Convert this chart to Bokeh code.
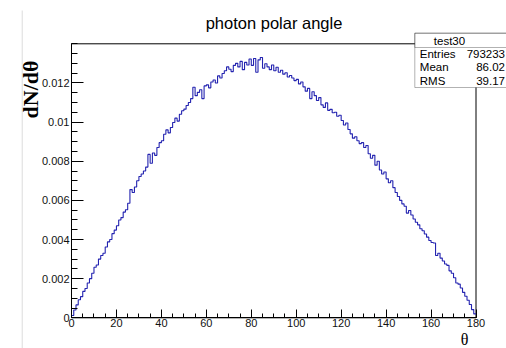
import numpy as np
from bokeh.plotting import figure
from bokeh.models import (FixedTicker, Label, BoxAnnotation, Range1d,
                          CustomJSTickFormatter)
from bokeh.embed import file_html
from bokeh.resources import INLINE

# ---------------- data ----------------
title_text = "photon polar angle"
x_label = "θ"
y_label = "dN/dθ"
stats_name = "test30"
stats_keys = ["Entries", "Mean", "RMS"]
stats_vals = ["793233", "86.02", "39.17"]

x_lo, x_hi, n_bins = 0, 180, 180
y_lo, y_hi = 0, 0.0140

counts = [
    0.00012, 0.00040, 0.00066, 0.00092, 0.00108, 0.00135, 0.00150, 0.00178, 0.00200, 0.00228,
    0.00258, 0.00270, 0.00300, 0.00318, 0.00330, 0.00362, 0.00388, 0.00400, 0.00430, 0.00448,
    0.00470, 0.00500, 0.00512, 0.00540, 0.00552, 0.00585, 0.00655, 0.00640, 0.00668, 0.00700,
    0.00722, 0.00735, 0.00750, 0.00770, 0.00835, 0.00790, 0.00842, 0.00830, 0.00870, 0.00895,
    0.00905, 0.00938, 0.00960, 0.00945, 0.00972, 0.00998, 0.01020, 0.01005, 0.01040, 0.01058,
    0.01066, 0.01085, 0.01100, 0.01120, 0.01178, 0.01135, 0.01152, 0.01165, 0.01120, 0.01185,
    0.01190, 0.01175, 0.01205, 0.01215, 0.01200, 0.01236, 0.01225, 0.01248, 0.01262, 0.01282,
    0.01270, 0.01258, 0.01290, 0.01300, 0.01282, 0.01310, 0.01268, 0.01305, 0.01292, 0.01322,
    0.01290, 0.01325, 0.01255, 0.01318, 0.01330, 0.01275, 0.01298, 0.01282, 0.01268, 0.01292,
    0.01262, 0.01280, 0.01255, 0.01265, 0.01245, 0.01252, 0.01230, 0.01238, 0.01225, 0.01212,
    0.01218, 0.01195, 0.01205, 0.01180, 0.01158, 0.01172, 0.01120, 0.01155, 0.01135, 0.01110,
    0.01125, 0.01088, 0.01075, 0.01098, 0.01060, 0.01065, 0.01048, 0.01050, 0.01030, 0.01035,
    0.01008, 0.00985, 0.00995, 0.00962, 0.00940, 0.00918, 0.00925, 0.00905, 0.00890, 0.00895,
    0.00870, 0.00880, 0.00838, 0.00815, 0.00830, 0.00780, 0.00800, 0.00755, 0.00735, 0.00745,
    0.00710, 0.00690, 0.00700, 0.00665, 0.00640, 0.00620, 0.00600, 0.00582, 0.00570, 0.00535,
    0.00548, 0.00525, 0.00505, 0.00488, 0.00475, 0.00455, 0.00445, 0.00428, 0.00412, 0.00395,
    0.00385, 0.00382, 0.00318, 0.00330, 0.00305, 0.00290, 0.00275, 0.00268, 0.00240, 0.00228,
    0.00205, 0.00178, 0.00172, 0.00152, 0.00130, 0.00110, 0.00090, 0.00068, 0.00042, 0.00020,
]

x_ticks = [0, 20, 40, 60, 80, 100, 120, 140, 160, 180]
x_minor_step = 5
y_ticks = [0, 0.002, 0.004, 0.006, 0.008, 0.010, 0.012]
y_minor_step = 0.0005

# ---------------- layout (canvas pixels) ----------------
W, H = 506, 348
FRAME_L, FRAME_R, FRAME_T, FRAME_B = 71.0, 475.5, 43.3, 317.3


def dx(px):
    return x_lo + (px - FRAME_L) * (x_hi - x_lo) / (FRAME_R - FRAME_L)


def dy(py):
    return y_lo + (FRAME_B - py) * (y_hi - y_lo) / (FRAME_B - FRAME_T)


SANS = "Liberation Sans"
SERIF = "Liberation Serif"
LINE_BLUE = "#2323b0"

p = figure(width=W, height=H, output_backend="svg", toolbar_location=None,
           x_range=Range1d(dx(0), dx(W)), y_range=Range1d(dy(H), dy(0)),
           min_border=0, min_border_left=0, min_border_right=0,
           min_border_top=0, min_border_bottom=0)
p.background_fill_color = "white"
p.border_fill_color = "white"
p.outline_line_color = None
p.xgrid.visible = False
p.ygrid.visible = False

# plot frame
p.quad(left=[x_lo], right=[x_hi], bottom=[y_lo], top=[y_hi],
       fill_alpha=0, line_color="black", line_width=1)

edges = np.linspace(x_lo, x_hi, n_bins + 1)
step_y = list(counts) + [counts[-1]]
p.step(edges, step_y, mode="after", line_color=LINE_BLUE, line_width=1.1)

xminor = [float(v) for v in np.arange(x_lo, x_hi + 0.001, x_minor_step)]
yminor = [float(v) for v in np.arange(y_lo, y_hi + 1e-9, y_minor_step)]

for ax, ticks, minor, tin, mtin, bnds, loc in (
        (p.xaxis[0], x_ticks, xminor, 8, 4, (x_lo, x_hi), y_lo),
        (p.yaxis[0], y_ticks, yminor, 12, 6, (y_lo, y_hi), x_lo)):
    ax.fixed_location = loc
    ax.bounds = bnds
    ax.ticker = FixedTicker(ticks=ticks, minor_ticks=minor)
    ax.major_tick_in = tin
    ax.major_tick_out = 0
    ax.minor_tick_in = mtin
    ax.minor_tick_out = 0
    ax.axis_line_color = "black"
    ax.major_tick_line_color = "black"
    ax.minor_tick_line_color = "black"
    ax.major_label_text_font = SANS
    ax.major_label_text_font_size = "11px"
    ax.major_label_text_color = "#111111"

p.xaxis[0].major_label_standoff = 1
p.yaxis[0].major_label_standoff = 2
p.yaxis[0].formatter = CustomJSTickFormatter(
    code="return Number(tick.toFixed(4)).toString();")

# faint vertical line at page left
p.add_layout(BoxAnnotation(left=dx(21.2), right=dx(22.2), top=dy(10), bottom=dy(360),
                           fill_color="#dcdcdc", fill_alpha=1, line_alpha=0))

# title
p.add_layout(Label(x=dx(273.5), y=dy(22), text=title_text, text_align="center",
                   text_baseline="alphabetic", text_font=SANS,
                   text_font_size="16.5px", text_color="black"))
# y axis title
p.add_layout(Label(x=dx(30), y=dy(60), text=y_label, angle=np.pi / 2,
                   text_align="right", text_baseline="alphabetic",
                   text_font=SERIF, text_font_style="bold",
                   text_font_size="22px", text_color="black"))
# x axis title
p.add_layout(Label(x=dx(464), y=dy(347.5), text=x_label, text_align="center",
                   text_baseline="bottom", text_font=SERIF,
                   text_font_size="16px", text_color="black"))

# stats box
box_l, box_r, box_t, box_sep, box_b = 414.3, 540, 32.7, 47, 87
p.add_layout(BoxAnnotation(left=dx(box_l), right=dx(box_r), top=dy(box_t), bottom=dy(box_b),
                           fill_color="white", fill_alpha=1, line_color="black",
                           line_width=1, level="overlay"))
p.add_layout(BoxAnnotation(left=dx(box_l), right=dx(box_r), top=dy(box_t), bottom=dy(box_sep),
                           fill_alpha=0, line_color="black", line_width=1, level="overlay"))
p.add_layout(Label(x=dx(449), y=dy(40), text=stats_name, text_align="center",
                   text_baseline="middle", text_font=SANS, text_font_size="11.5px",
                   text_color="black", level="overlay"))
row_y = [53.3, 66.7, 80]
val_right = 504.5
for key, val, ry in zip(stats_keys, stats_vals, row_y):
    p.add_layout(Label(x=dx(419.3), y=dy(ry), text=key, text_align="left",
                       text_baseline="middle", text_font=SANS, text_font_size="11.5px",
                       text_color="black", level="overlay"))
    p.add_layout(Label(x=dx(val_right), y=dy(ry), text=val, text_align="right",
                       text_baseline="middle", text_font=SANS, text_font_size="11.5px",
                       text_color="black", level="overlay"))

open("out.html", "w").write(file_html(p, INLINE))
